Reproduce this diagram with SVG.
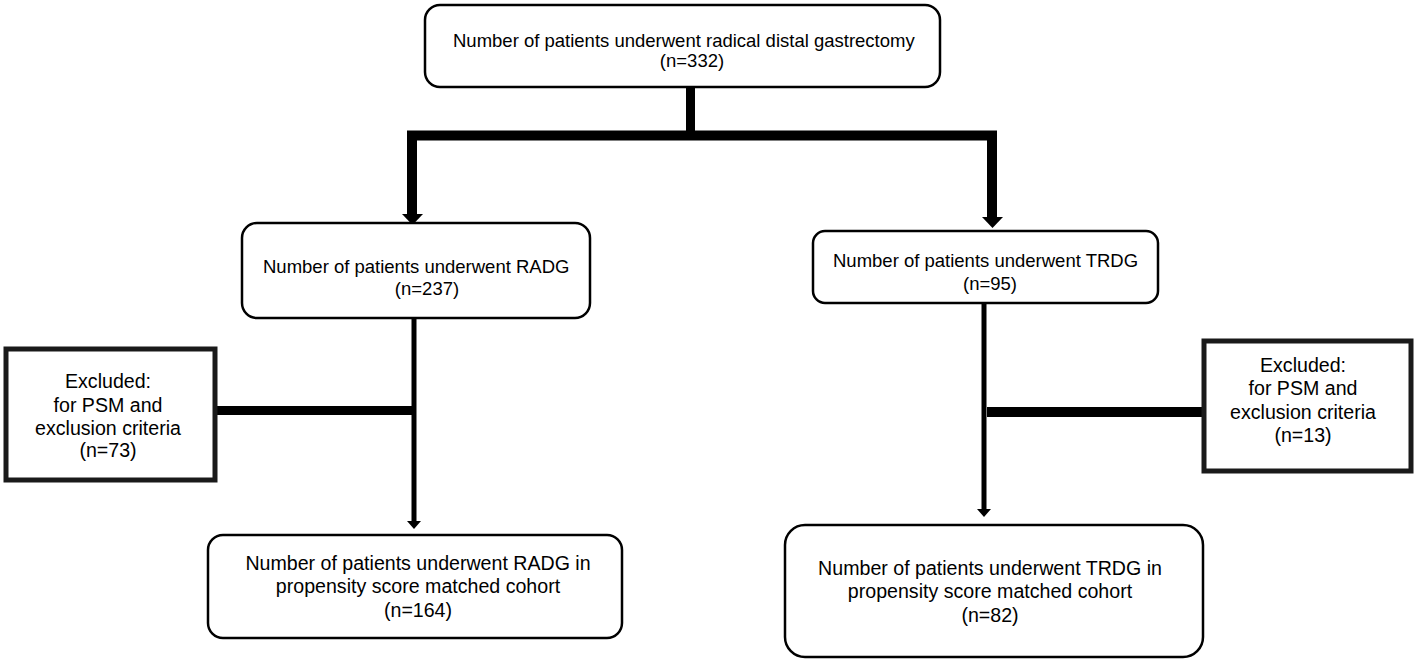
<svg xmlns="http://www.w3.org/2000/svg" width="1418" height="663" viewBox="0 0 1418 663">
<style>
.box{fill:#fff;stroke:#000;stroke-width:2.5}
.exc{fill:#fff;stroke:#1a1a1a;stroke-width:5}
.t{font-family:"Liberation Sans",Arial,sans-serif;font-size:18.5px;fill:#000}
.l{font-size:19.6px}
.tc{text-anchor:middle}
.ln{stroke:#000;fill:none;stroke-linecap:butt}
.ah{fill:#000}
</style>
<rect width="1418" height="663" fill="#fff"/>
<g id="connectors">
<line class="ln" x1="690.5" y1="87" x2="690.5" y2="136" stroke-width="9"/>
<path class="ln" d="M412,215 V135.5 H992 V218" stroke-width="10" stroke-linejoin="miter"/>
<polygon class="ah" points="402,214 423,214 412.5,225"/>
<polygon class="ah" points="982,217 1003,217 992.5,228"/>
<line class="ln" x1="414" y1="318" x2="414" y2="522" stroke-width="5"/>
<polygon class="ah" points="407,521 421,521 414,529"/>
<line class="ln" x1="217" y1="410.5" x2="414" y2="410.5" stroke-width="9"/>
<line class="ln" x1="984" y1="303" x2="984" y2="510" stroke-width="5"/>
<polygon class="ah" points="977,509 991,509 984,517"/>
<line class="ln" x1="987" y1="412" x2="1202" y2="412" stroke-width="10"/>
</g>
<g id="n_top">
<rect class="box" x="425" y="5" width="515" height="82" rx="15" stroke-width="3"/>
<text class="t" x="453" y="47">Number of patients underwent radical distal gastrectomy</text>
<text class="t tc" x="692" y="67">(n=332)</text>
</g>
<g id="n_radg">
<rect class="box" x="242" y="223" width="348" height="95" rx="15"/>
<text class="t" x="263" y="273">Number of patients underwent RADG</text>
<text class="t tc" x="427" y="295">(n=237)</text>
</g>
<g id="n_trdg">
<rect class="box" x="813" y="231" width="345" height="72" rx="12"/>
<text class="t" x="833" y="267">Number of patients underwent TRDG</text>
<text class="t tc" x="990" y="290">(n=95)</text>
</g>
<g id="n_exc_left">
<rect class="exc" x="6" y="349" width="209" height="131"/>
<text class="t l tc" x="108" y="388">Excluded:</text>
<text class="t l tc" x="108" y="412">for PSM and</text>
<text class="t l tc" x="108" y="435">exclusion criteria</text>
<text class="t l tc" x="108" y="457">(n=73)</text>
</g>
<g id="n_exc_right">
<rect class="exc" x="1204" y="341" width="207" height="130"/>
<text class="t l tc" x="1303" y="372">Excluded:</text>
<text class="t l tc" x="1303" y="395">for PSM and</text>
<text class="t l tc" x="1303" y="419">exclusion criteria</text>
<text class="t l tc" x="1303" y="442">(n=13)</text>
</g>
<g id="n_radg_psm">
<rect class="box" x="208" y="535" width="414" height="103" rx="15"/>
<text class="t l tc" x="418" y="570">Number of patients underwent RADG in</text>
<text class="t l tc" x="418" y="593">propensity score matched cohort</text>
<text class="t l tc" x="418" y="617">(n=164)</text>
</g>
<g id="n_trdg_psm">
<rect class="box" x="785" y="525" width="418" height="132" rx="20"/>
<text class="t l tc" x="990" y="575">Number of patients underwent TRDG in</text>
<text class="t l tc" x="990" y="598">propensity score matched cohort</text>
<text class="t l tc" x="990" y="622">(n=82)</text>
</g>
</svg>
